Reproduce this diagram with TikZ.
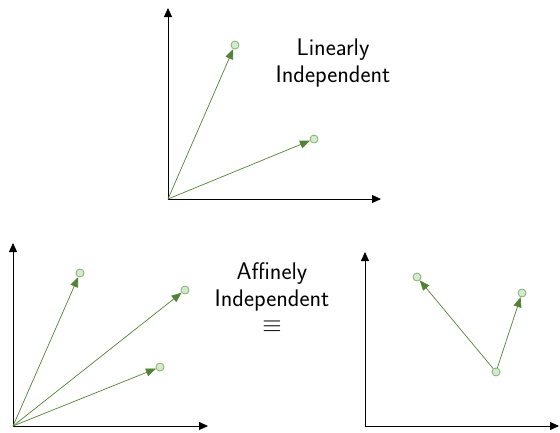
\documentclass[tikz,border=0pt]{standalone}
\usetikzlibrary{arrows.meta}
\definecolor{vecGreen}{HTML}{538135}
\definecolor{ptStroke}{HTML}{82B366}
\definecolor{ptFill}{HTML}{D5E8D4}
\begin{document}
\begin{tikzpicture}[
        x=1pt, y=-1pt,
        axis/.style={thick, -{Triangle[length=9pt, width=8pt]}},
        vecLine/.style={vecGreen, line width=0.7pt, -{Triangle[length=10pt, width=8pt]}},
        ptNode/.style={circle, draw=ptStroke, fill=ptFill, line width=0.8pt, minimum size=8pt, inner sep=0pt},
        label/.style={align=center, font=\sffamily\fontsize{24}{26.5}\selectfont}
    ]
        \useasboundingbox (0, 0) rectangle (560, 432);

        % linearly independent
        \coordinate (origA) at (168, 199);
        \coordinate (yEndA) at (168, 8);
        \coordinate (xEndA) at (381, 199);
        \node[ptNode] (a1) at (235, 45) {};
        \node[ptNode] (a2) at (314, 139) {};
        \node[label] (linText) at (333, 63) {Linearly\\Independent};

        \draw[axis] (origA) -- (yEndA);
        \draw[axis] (origA) -- (xEndA);
        \draw[vecLine] (origA) -- (a1);
        \draw[vecLine] (origA) -- (a2);

        % affinely independent, from the origin
        \coordinate (origB) at (13, 426);
        \coordinate (yEndB) at (13, 243);
        \coordinate (xEndB) at (208, 426);
        \node[ptNode] (b1) at (80, 273) {};
        \node[ptNode] (b2) at (185, 290) {};
        \node[ptNode] (b3) at (160, 367) {};
        \node[label] (affText) at (272, 298) {Affinely\\Independent\\$\equiv$};

        \draw[axis] (origB) -- (yEndB);
        \draw[axis] (origB) -- (xEndB);
        \draw[vecLine] (origB) -- (b1);
        \draw[vecLine] (origB) -- (b2);
        \draw[vecLine] (origB) -- (b3);

        % affinely independent, from a point
        \coordinate (origC) at (365, 426);
        \coordinate (yEndC) at (365, 252);
        \coordinate (xEndC) at (559, 426);
        \node[ptNode] (c1) at (417, 277) {};
        \node[ptNode] (c2) at (522, 293) {};
        \node[ptNode] (c0) at (496, 372) {};

        \draw[axis] (origC) -- (yEndC);
        \draw[axis] (origC) -- (xEndC);
        \draw[vecLine] (c0) -- (c1);
        \draw[vecLine] (c0) -- (c2);
    \end{tikzpicture}
\end{document}
